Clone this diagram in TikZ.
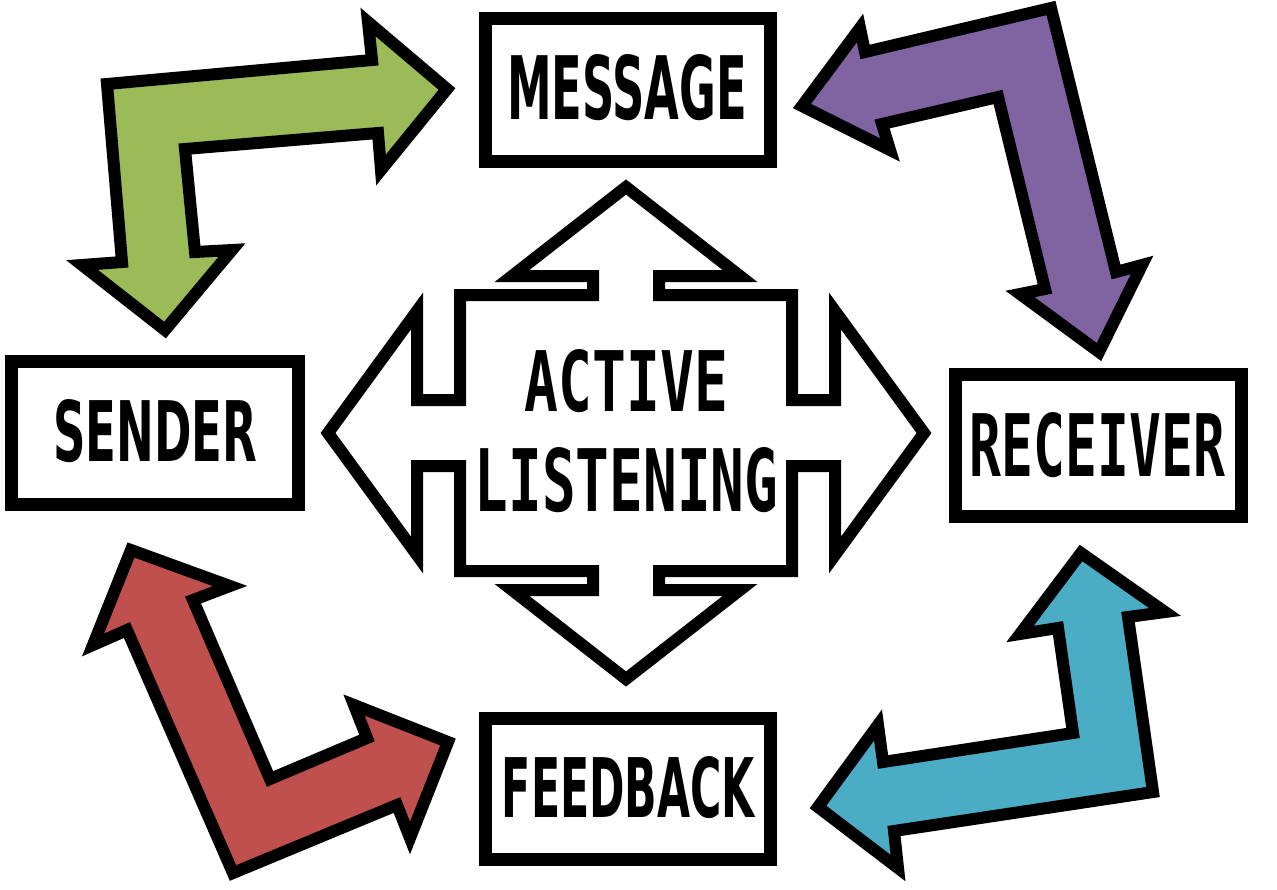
\documentclass[tikz,border=0pt]{standalone}
\usepackage{fontspec}
\usepackage{graphicx}
\setmainfont{DejaVu Sans}
\newfontfamily\lblmono{DejaVu Sans Mono}
\definecolor{agreen}{HTML}{9BBB59}
\definecolor{apurple}{HTML}{8064A2}
\definecolor{ared}{HTML}{C0504D}
\definecolor{ablue}{HTML}{4BACC6}
\begin{document}
\begin{tikzpicture}[x=1pt,y=-1pt,
  arrowshape/.style={draw=black, line width=12pt, line join=miter, miter limit=10},
  box/.style={draw=black, line width=13pt, fill=white, inner sep=0pt, line join=miter},
  lbl/.style={inner sep=0pt, outer sep=0pt}]
\useasboundingbox (0,0) rectangle (1277,889);

% green arrow (sender <-> message)
\draw[arrowshape, fill=agreen] (107,84) -- (372,60) -- (368,22) -- (447,89) -- (381,170) -- (378,133) -- (185,149) -- (195,252) -- (232,250) -- (165,330) -- (82,265) -- (122,262) -- cycle;
% purple arrow (message <-> receiver)
\draw[arrowshape, fill=apurple] (802,106) -- (860,28) -- (865,52) -- (1051,8) -- (1116,272) -- (1142,265) -- (1099,352) -- (1020,294) -- (1045,289) -- (998,97) -- (882,124) -- (890,150) -- cycle;
% red arrow (sender <-> feedback)
\draw[arrowshape, fill=ared] (131,550) -- (230,586) -- (193,600) -- (270,779) -- (367,738) -- (354,705) -- (448,742) -- (410,838) -- (397,805) -- (233,873) -- (127,630) -- (93,645) -- cycle;
% blue arrow (receiver <-> feedback)
\draw[arrowshape, fill=ablue] (1081,553) -- (1165,612) -- (1128,617) -- (1153,792) -- (894,831) -- (898,868) -- (818,807) -- (878,725) -- (883,762) -- (1073,733) -- (1058,628) -- (1020,634) -- cycle;

% central four-way arrow
\draw[arrowshape, fill=white, shift={(626,433)}]
  (0,-246) -- (114,-157) -- (33,-157) -- (33,-138) -- (166,-138) -- (166,-33) -- (209,-33) -- (209,-122)
  -- (298,0) -- (209,122) -- (209,33) -- (166,33) -- (166,138) -- (33,138) -- (33,157) -- (114,157)
  -- (0,246) -- (-114,157) -- (-33,157) -- (-33,138) -- (-166,138) -- (-166,33) -- (-209,33) -- (-209,122)
  -- (-298,0) -- (-209,-122) -- (-209,-33) -- (-166,-33) -- (-166,-138) -- (-33,-138) -- (-33,-157) -- (-114,-157) -- cycle;

% boxes
\node[box, minimum width=285pt, minimum height=143pt] (message) at (627.5,89.5) {};
\node[box, minimum width=287pt, minimum height=143pt] (sender) at (154.5,432.5) {};
\node[box, minimum width=286pt, minimum height=142pt] (receiver) at (1098,445) {};
\node[box, minimum width=285pt, minimum height=141pt] (feedback) at (627.5,788.5) {};

% labels
\node[lbl] (tmessage) at (627,87.5) {\resizebox{240pt}{65pt}{\bfseries MESSAGE}};
\node[lbl] (tsender) at (155,431) {\resizebox{204pt}{62pt}{\bfseries SENDER}};
\node[lbl] (treceiver) at (1097.5,445) {\resizebox{255pt}{64pt}{\lblmono\bfseries RECEIVER}};
\node[lbl] (tfeedback) at (628.5,787.5) {\resizebox{253pt}{61pt}{\bfseries FEEDBACK}};
\node[lbl] (tactive) at (626.5,381) {\resizebox{203pt}{62pt}{\lblmono\bfseries ACTIVE}};
\node[lbl] (tlistening) at (626.5,480) {\resizebox{303pt}{64pt}{\lblmono\bfseries LISTENING}};
\end{tikzpicture}
\end{document}
